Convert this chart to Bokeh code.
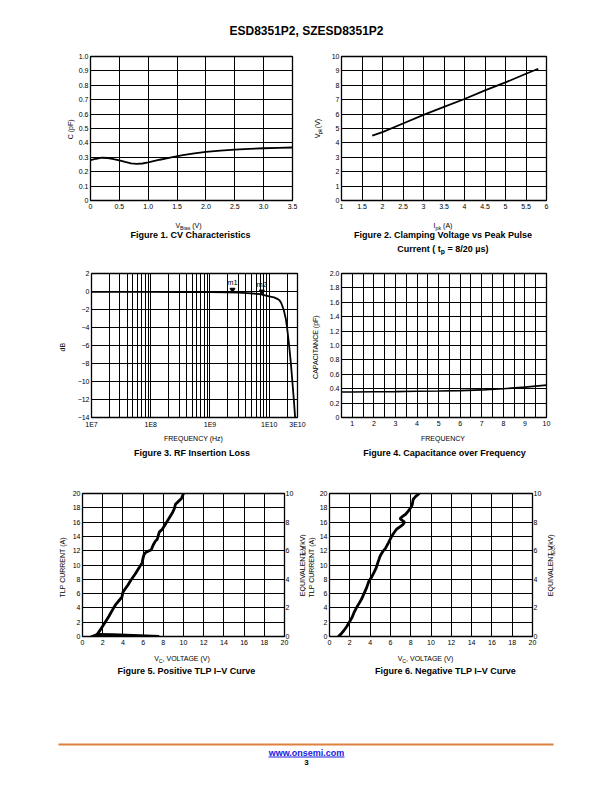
import math
from bokeh.plotting import figure
from bokeh.models import FixedTicker, Range1d, LinearAxis, Label
from bokeh.layouts import column, row
from bokeh.embed import file_html
from bokeh.resources import INLINE
from bokeh.core.properties import value

FONT = "Liberation Sans"

# ---------------- data ----------------
# Figure 1: CV characteristics
cv_bias_v = [0, 0.1, 0.2, 0.3, 0.4, 0.5, 0.6, 0.7, 0.8, 0.9, 1.0, 1.2, 1.4, 1.6, 1.8, 2.0, 2.25, 2.5, 2.75, 3.0, 3.25, 3.5]
cv_cap_pf = [0.28, 0.29, 0.297, 0.295, 0.288, 0.279, 0.268, 0.258, 0.254, 0.257, 0.264, 0.283, 0.3, 0.315, 0.327,
             0.337, 0.347, 0.354, 0.359, 0.363, 0.366, 0.368]

# Figure 2: clamping voltage vs peak pulse current
clamp_ipk_a = [1.75, 2.0, 2.5, 3.0, 3.5, 4.0, 4.5, 5.0, 5.5, 5.8]
clamp_vpk_v = [4.5, 4.75, 5.35, 5.95, 6.5, 7.05, 7.65, 8.2, 8.8, 9.15]

# Figure 3: RF insertion loss
rf_freq_hz = [1e7, 3e7, 1e8, 3e8, 1e9, 2e9, 3e9, 5e9, 7e9, 1e10, 1.2e10, 1.4e10, 1.5e10, 1.6e10, 1.75e10,
              1.9e10, 2.0e10, 2.15e10, 2.3e10, 2.45e10, 2.6e10, 2.75e10]
rf_loss_db = [-0.05, -0.05, -0.05, -0.06, -0.08, -0.1, -0.13, -0.2, -0.3, -0.55, -0.65, -0.85, -1.0, -1.3, -2.0,
              -3.0, -4.0, -5.8, -7.7, -9.9, -12.0, -14.2]
marker_names = ["m1", "m2"]
marker_freq_hz = [2.4e9, 7.5e9]
marker_db = [-0.1, -0.3]

# Figure 4: capacitance over frequency
capf_freq = [0.5, 1, 2, 3, 4, 5, 6, 7, 8, 9, 10]
capf_cap_pf = [0.355, 0.355, 0.357, 0.36, 0.364, 0.368, 0.373, 0.383, 0.4, 0.422, 0.45]

# Figure 5: positive TLP I-V
tlp_pos_v = [1.3, 1.5, 1.8, 2.2, 2.6, 3.0, 3.3, 3.6, 3.9, 4.0, 4.2, 4.5, 4.8, 5.2, 5.6, 5.9, 6.0, 6.1, 6.3, 6.6,
             6.8, 7.0, 7.2, 7.4, 7.6, 7.9, 8.3, 8.6, 8.9, 9.1, 9.2, 9.5, 9.8, 10.0]
tlp_pos_i = [0.1, 0.4, 1.0, 1.9, 2.8, 3.8, 4.5, 5.0, 5.5, 6.2, 6.6, 7.2, 7.9, 8.7, 9.6, 10.3, 11.0, 11.5, 11.8, 12.0,
             12.1, 12.8, 13.3, 13.6, 14.6, 15.0, 15.9, 16.6, 17.3, 17.9, 18.5, 18.9, 19.3, 20.0]
tlp_low_v = [0.8, 1.5, 3.0, 5.0, 7.6]
tlp_low_top = [0.15, 0.5, 0.45, 0.35, 0.2]
tlp_low_bottom = [0.0, -0.2, -0.2, -0.2, 0.0]

# Figure 6: negative TLP I-V
tlp_neg_v = [0.85, 1.1, 1.4, 1.7, 1.95, 2.2, 2.4, 2.65, 2.9, 3.15, 3.4, 3.65, 3.9, 4.15, 4.4, 4.6, 4.8, 5.0, 5.25,
             5.5, 5.8, 6.05, 6.3, 6.6, 6.9, 7.2, 7.4, 7.1, 6.95, 7.2, 7.5, 7.8, 8.0, 8.15, 8.2, 8.25, 8.5, 8.85]
tlp_neg_i = [0.0, 0.3, 0.8, 1.4, 2.0, 2.6, 3.3, 4.0, 4.6, 5.2, 6.0, 6.8, 7.8, 8.3, 9.0, 9.6, 10.5, 11.3, 11.9,
             12.3, 13.1, 13.8, 14.4, 15.0, 15.3, 15.6, 16.0, 16.3, 16.5, 16.8, 17.1, 17.6, 18.0, 18.4, 18.8, 19.2,
             19.6, 20.0]

# ---------------- ticks ----------------
f1_x_ticks = [0, 0.5, 1.0, 1.5, 2.0, 2.5, 3.0, 3.5]
f1_x_labels = ["0", "0.5", "1.0", "1.5", "2.0", "2.5", "3.0", "3.5"]
f1_y_ticks = [0, 0.1, 0.2, 0.3, 0.4, 0.5, 0.6, 0.7, 0.8, 0.9, 1.0]
f1_y_labels = ["0", "0.1", "0.2", "0.3", "0.4", "0.5", "0.6", "0.7", "0.8", "0.9", "1.0"]
f2_x_ticks = [1, 1.5, 2, 2.5, 3, 3.5, 4, 4.5, 5, 5.5, 6]
f2_x_labels = ["1", "1.5", "2", "2.5", "3", "3.5", "4", "4.5", "5", "5.5", "6"]
f2_y_ticks = [0, 1, 2, 3, 4, 5, 6, 7, 8, 9, 10]
f2_y_labels = ["0", "1", "2", "3", "4", "5", "6", "7", "8", "9", "10"]
f3_x_ticks = [1e7, 1e8, 1e9, 1e10, 3e10]
f3_x_labels = ["1E7", "1E8", "1E9", "1E10", "3E10"]
f3_y_ticks = [2, 0, -2, -4, -6, -8, -10, -12, -14]
f3_y_labels = ["2", "0", "\u22122", "\u22124", "\u22126", "\u22128", "\u221210", "\u221212", "\u221214"]
f4_x_ticks = [1, 2, 3, 4, 5, 6, 7, 8, 9, 10]
f4_x_labels = ["1", "2", "3", "4", "5", "6", "7", "8", "9", "10"]
f4_y_ticks = [0, 0.2, 0.4, 0.6, 0.8, 1.0, 1.2, 1.4, 1.6, 1.8, 2.0]
f4_y_labels = ["0", "0.2", "0.4", "0.6", "0.8", "1.0", "1.2", "1.4", "1.6", "1.8", "2.0"]
tlp_ticks = [0, 2, 4, 6, 8, 10, 12, 14, 16, 18, 20]
tlp_labels = ["0", "2", "4", "6", "8", "10", "12", "14", "16", "18", "20"]
iec_ticks = [0, 2, 4, 6, 8, 10]
iec_labels = ["0", "2", "4", "6", "8", "10"]

f3_x_grid = [k * 10.0 ** n for n in range(7, 10) for k in range(1, 10)] + [1e10, 2e10, 3e10]
f4_x_grid = [0.5 * k for k in range(1, 21)]

# ---------------- text helpers ----------------
REG = {' ': 0.278, '(': 0.333, ')': 0.333, ',': 0.278, '.': 0.278, '/': 0.278, '=': 0.584,
       'A': 0.667, 'B': 0.667, 'C': 0.722, 'E': 0.667, 'G': 0.778, 'I': 0.278, 'L': 0.556, 'N': 0.722,
       'O': 0.778, 'Q': 0.778, 'T': 0.611, 'U': 0.722, 'V': 0.667, 'a': 0.556, 'i': 0.222, 'k': 0.5,
       'p': 0.556, 's': 0.5}
BOLD = {' ': 0.278, '(': 0.333, ')': 0.333, '/': 0.278, '=': 0.584, 'C': 0.722, 'u': 0.611, 'r': 0.389,
        'e': 0.556, 'n': 0.611, 't': 0.333, 'p': 0.611, 's': 0.556, '\u00b5': 0.611}


def text_w(s, size, bold=False):
    tbl = BOLD if bold else REG
    return sum(tbl.get(ch, 0.556) for ch in s) * size


def text_fig(w, h):
    """A blank strip whose data units are pixels, y growing downwards."""
    p = figure(width=w, height=h, title=None, toolbar_location=None, output_backend="svg",
               x_axis_location=None, y_axis_location=None, min_border=0,
               x_range=Range1d(0, w), y_range=Range1d(h, 0))
    p.outline_line_color = None
    p.grid.visible = False
    p.background_fill_color = "white"
    p.border_fill_color = "white"
    return p


def lab(p, cx, cy, text, size, bold=False, vertical=False, color="black"):
    p.add_layout(Label(x=cx, y=cy, text=text, angle=math.pi / 2 if vertical else 0,
                       text_align="center", text_baseline="middle", text_font=FONT,
                       text_font_size=f"{size}px", text_font_style="bold" if bold else "normal",
                       text_color=color))


def rich(p, cx, cy, parts, size, bold=False, vertical=False):
    """Text made of pieces, some of them subscripts; leading blanks become offsets."""
    sub = size * 0.75
    widths = [text_w(t, sub if s else size, bold) for t, s in parts]
    total = sum(widths)
    base = size * 0.35
    pos = 0.0
    for (t, s), w in zip(parts, widths):
        fs = sub if s else size
        drop = size * 0.25 if s else 0
        stripped = t.lstrip(" ")
        lead = text_w(t[:len(t) - len(stripped)], fs, bold)
        along = pos + lead
        if vertical:
            x, y, ang = cx + base + drop, cy + total / 2 - along, math.pi / 2
        else:
            x, y, ang = cx - total / 2 + along, cy + base + drop, 0
        p.add_layout(Label(x=x, y=y, text=stripped, angle=ang, text_align="left", text_baseline="alphabetic",
                           text_font=FONT, text_font_size=f"{fs:.2f}px",
                           text_font_style="bold" if bold else "normal", text_color="black"))
        pos += w


def style_axis(ax, ticks, labels, standoff):
    ax.ticker = FixedTicker(ticks=ticks, minor_ticks=[])
    ax.major_label_overrides = {t: l for t, l in zip(ticks, labels)}
    ax.major_label_text_font = FONT
    ax.major_label_text_font_size = "7px"
    ax.major_label_text_color = "black"
    ax.major_label_standoff = standoff
    ax.major_tick_in = 0
    ax.major_tick_out = 0
    ax.minor_tick_in = 0
    ax.minor_tick_out = 0
    ax.axis_line_color = None
    ax.axis_label = None


def make_fig(w, h, bl, br, bt, bb, xr, yr, xt, xl, yt, yl, xg=None, yg=None, xlog=False):
    p = figure(width=w, height=h, title=None, toolbar_location=None, output_backend="svg",
               x_range=Range1d(*xr), y_range=Range1d(*yr), x_axis_type="log" if xlog else "linear",
               min_border_left=bl, min_border_right=br, min_border_top=bt, min_border_bottom=bb)
    p.outline_line_color = "black"
    p.outline_line_width = 1.3
    p.background_fill_color = "white"
    p.border_fill_color = "white"
    style_axis(p.xaxis[0], xt, xl, 3)
    style_axis(p.yaxis[0], yt, yl, 2)
    p.xgrid[0].ticker = FixedTicker(ticks=xg if xg is not None else xt)
    p.ygrid[0].ticker = FixedTicker(ticks=yg if yg is not None else yt)
    for g in (p.xgrid[0], p.ygrid[0]):
        g.grid_line_color = "black"
        g.grid_line_width = 1
        g.grid_line_alpha = 1
    return p


# ---------------- header ----------------
header = text_fig(612, 40)
lab(header, 306, 30, "ESD8351P2, SZESD8351P2", 12, bold=True)

# ---------------- row 1 (charts 174 px high, captions 41 px) ----------------
L1 = text_fig(75, 174)
lab(L1, 70, 88, "C (pF)", 7, vertical=True)
P1 = make_fig(231, 174, 12, 14, 16, 14, (0, 3.5), (0, 1.0), f1_x_ticks, f1_x_labels, f1_y_ticks, f1_y_labels)
P1.line(cv_bias_v, cv_cap_pf, line_color="black", line_width=1.8)

L2 = text_fig(22, 174)
rich(L2, 9, 88, [("V", False), ("pk", True), (" (V)", False)], 7, vertical=True)
P2 = make_fig(284, 174, 13, 66, 16, 14, (1, 6), (0, 10), f2_x_ticks, f2_x_labels, f2_y_ticks, f2_y_labels)
P2.line(clamp_ipk_a, clamp_vpk_v, line_color="black", line_width=1.8)

B1 = text_fig(306, 41)
rich(B1, 188, 9, [("V", False), ("Bias", True), (" (V)", False)], 7)
lab(B1, 190, 20, "Figure 1. CV Characteristics", 9, bold=True)
B2 = text_fig(306, 41)
rich(B2, 136.5, 9, [("I", False), ("pk", True), (" (A)", False)], 7)
lab(B2, 136.5, 20, "Figure 2. Clamping Voltage vs Peak Pulse", 9, bold=True)
rich(B2, 136.5, 31.5, [("Current ( t", False), ("p", True), (" = 8/20 \u00b5s)", False)], 9, bold=True)

# ---------------- row 2 (charts 176 px, captions 39 px) ----------------
L3 = text_fig(72, 176)
lab(L3, 62, 90, "dB", 7, vertical=True)
P3 = make_fig(234, 176, 19, 9, 18, 14, (1e7, 3e10), (-14, 2), f3_x_ticks, f3_x_labels, f3_y_ticks, f3_y_labels,
              xg=f3_x_grid, xlog=True)
P3.line(rf_freq_hz, rf_loss_db, line_color="black", line_width=1.8)
P3.scatter(marker_freq_hz, [d + 0.3 for d in marker_db], marker="inverted_triangle", size=5, color="black")
P3.text(marker_freq_hz, marker_db, text=marker_names, text_font=value(FONT), text_font_size="7.5px",
        text_align="center", text_baseline="middle", y_offset=-10, text_color="black")

L4 = text_fig(20, 176)
lab(L4, 9, 90, "CAPACITANCE (pF)", 7, vertical=True)
P4 = make_fig(286, 176, 15, 66, 18, 14, (0.5, 10), (0, 2.0), f4_x_ticks, f4_x_labels, f4_y_ticks, f4_y_labels,
              xg=f4_x_grid)
P4.line(capf_freq, capf_cap_pf, line_color="black", line_width=1.6)

B3 = text_fig(306, 39)
lab(B3, 193, 7, "FREQUENCY (Hz)", 7)
lab(B3, 191.5, 21.5, "Figure 3. RF Insertion Loss", 9, bold=True)
B4 = text_fig(306, 39)
lab(B4, 136.5, 7, "FREQUENCY", 7)
lab(B4, 138, 21.5, "Figure 4. Capacitance over Frequency", 9, bold=True)


# ---------------- row 3 (charts 180 px, captions 40 px) ----------------
def tlp_fig(w, bl, br):
    p = make_fig(w, 180, bl, br, 23, 14, (0, 20), (0, 20), tlp_ticks, tlp_labels, tlp_ticks, tlp_labels)
    p.extra_y_ranges = {"iec": Range1d(0, 10)}
    ax = LinearAxis(y_range_name="iec")
    style_axis(ax, iec_ticks, iec_labels, 1)
    p.add_layout(ax, "right")
    return p


IEC_PARTS = [("EQUIVALENT V", False), ("IEC", True), (" (kV)", False)]
VC_PARTS = [("V", False), ("C", True), (", VOLTAGE (V)", False)]

L5 = text_fig(68, 180)
lab(L5, 62, 93, "TLP CURRENT (A)", 7, vertical=True)
P5 = tlp_fig(228, 14, 9)
P5.varea(tlp_low_v, tlp_low_bottom, tlp_low_top, fill_color="black")
P5.line(tlp_pos_v, tlp_pos_i, line_color="black", line_width=2.8)
R5 = text_fig(10, 180)
rich(R5, 3.3, 92, IEC_PARTS, 7, vertical=True)

L6 = text_fig(10, 180)
lab(L6, 4.5, 93, "TLP CURRENT (A)", 7, vertical=True)
P6 = tlp_fig(228, 12, 11)
P6.line(tlp_neg_v, tlp_neg_i, line_color="black", line_width=2.8)
R6 = text_fig(68, 180)
rich(R6, 4, 92, IEC_PARTS, 7, vertical=True)

B5 = text_fig(306, 40)
rich(B5, 182, 6, VC_PARTS, 7)
lab(B5, 186, 20.5, "Figure 5. Positive TLP I\u2013V Curve", 9, bold=True)
B6 = text_fig(306, 40)
rich(B6, 119.5, 6, VC_PARTS, 7)
lab(B6, 139, 20.5, "Figure 6. Negative TLP I\u2013V Curve", 9, bold=True)

# ---------------- footer ----------------
footer = text_fig(612, 100)
footer.line([58, 553], [54, 54], line_color="#DD8040", line_width=2)
lab(footer, 306, 62, "www.onsemi.com", 9, bold=True, color="#2020E0")
footer.line([268, 344], [66.5, 66.5], line_color="#2020E0", line_width=1)
lab(footer, 306, 72, "3", 8, bold=True)

page = column(header,
              row(L1, P1, L2, P2), row(B1, B2),
              row(L3, P3, L4, P4), row(B3, B4),
              row(L5, P5, R5, L6, P6, R6), row(B5, B6),
              footer)
open("out.html", "w").write(file_html(page, INLINE))
